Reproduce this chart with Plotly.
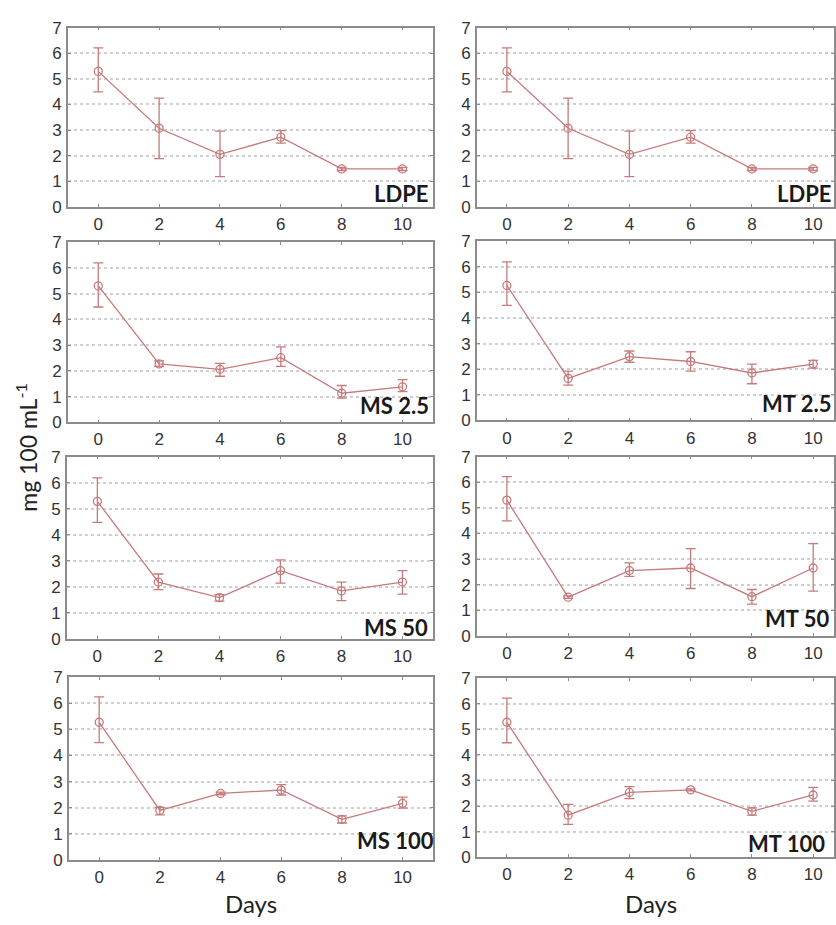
import plotly.graph_objects as go

days = [0, 2, 4, 6, 8, 10]
panel_names = ["LDPE", "LDPE", "MS 2.5", "MT 2.5", "MS 50", "MT 50", "MS 100", "MT 100"]

ldpe_mean = [5.29, 3.07, 2.05, 2.72, 1.48, 1.48]
ldpe_hi = [6.21, 4.25, 2.96, 2.98, 1.54, 1.54]
ldpe_lo = [4.49, 1.88, 1.18, 2.49, 1.42, 1.42]

ms25_mean = [5.30, 2.27, 2.06, 2.51, 1.13, 1.38]
ms25_hi = [6.19, 2.39, 2.29, 2.93, 1.43, 1.66]
ms25_lo = [4.48, 2.17, 1.79, 2.17, 0.94, 1.19]

mt25_mean = [5.27, 1.64, 2.49, 2.30, 1.85, 2.20]
mt25_hi = [6.19, 1.92, 2.71, 2.68, 2.20, 2.34]
mt25_lo = [4.49, 1.38, 2.27, 1.92, 1.43, 2.04]

ms50_mean = [5.28, 2.18, 1.58, 2.62, 1.84, 2.18]
ms50_hi = [6.18, 2.49, 1.70, 3.03, 2.18, 2.62]
ms50_lo = [4.47, 1.89, 1.45, 2.14, 1.47, 1.72]

mt50_mean = [5.30, 1.51, 2.55, 2.65, 1.53, 2.65]
mt50_hi = [6.22, 1.56, 2.85, 3.41, 1.81, 3.60]
mt50_lo = [4.49, 1.46, 2.32, 1.85, 1.24, 1.75]

ms100_mean = [5.27, 1.90, 2.55, 2.68, 1.56, 2.17]
ms100_hi = [6.24, 2.02, 2.60, 2.89, 1.69, 2.41]
ms100_lo = [4.49, 1.73, 2.50, 2.49, 1.42, 1.99]

mt100_mean = [5.27, 1.64, 2.53, 2.63, 1.79, 2.43]
mt100_hi = [6.21, 2.06, 2.76, 2.67, 1.93, 2.73]
mt100_lo = [4.47, 1.28, 2.29, 2.59, 1.64, 2.19]

series = [
    (ldpe_mean, ldpe_hi, ldpe_lo),
    (ldpe_mean, ldpe_hi, ldpe_lo),
    (ms25_mean, ms25_hi, ms25_lo),
    (mt25_mean, mt25_hi, mt25_lo),
    (ms50_mean, ms50_hi, ms50_lo),
    (mt50_mean, mt50_hi, mt50_lo),
    (ms100_mean, ms100_hi, ms100_lo),
    (mt100_mean, mt100_hi, mt100_lo),
]

W, H = 836, 925
# pixel boxes (left, right, top, bottom)
boxes = [
    (68, 434, 19, 202), (478, 836, 19, 202),
    (68, 434, 238, 422), (478, 836, 237, 420),
    (67, 434, 457, 643), (478, 836, 457, 640),
    (69, 434, 682, 869), (478, 836, 683, 866),
]
xranges = [[-1.0, 11.0], [-0.98, 10.68]] * 4
# label positions: right edge x, center y (pixels)
label_pos = [(431, 188), (835, 188), (432, 405), (835, 403),
             (431, 631), (833, 622), (437, 849), (829, 852)]

col = "#c77a7a"
axcol = "#8c8c8c"
tickfont = dict(family="Liberation Sans, Arial", size=17, color="#333333")

fig = go.Figure()
layout = dict(width=W, height=H, margin=dict(l=0, r=0, t=0, b=0),
              paper_bgcolor="white", plot_bgcolor="white", showlegend=False)
annotations = []

for i, ((m, hi, lo), (l, r, t, b)) in enumerate(zip(series, boxes)):
    k = "" if i == 0 else str(i + 1)
    fig.add_trace(go.Scatter(
        x=days, y=m, mode="lines+markers", xaxis="x" + k, yaxis="y" + k,
        line=dict(color=col, width=1.3),
        marker=dict(symbol="circle-open", size=8, color=col, line=dict(width=1.3)),
        error_y=dict(type="data", symmetric=False,
                     array=[h - v for h, v in zip(hi, m)],
                     arrayminus=[v - q for v, q in zip(m, lo)],
                     color=col, thickness=1.3, width=5),
    ))
    layout["xaxis" + k] = dict(
        domain=[l / W, r / W], range=xranges[i], anchor="y" + k,
        tickvals=days, ticks="inside", ticklen=3, tickcolor=axcol,
        showline=True, linecolor=axcol, linewidth=1.5, mirror="ticks",
        showgrid=False, zeroline=False, tickfont=tickfont, ticklabelstandoff=1,
    )
    layout["yaxis" + k] = dict(
        domain=[1 - b / H, 1 - t / H], range=[0, 7], anchor="x" + k,
        tickvals=list(range(8)), ticks="inside", ticklen=3, tickcolor=axcol,
        showline=True, linecolor=axcol, linewidth=1.5, mirror="ticks",
        showgrid=True, gridcolor="#cfcfcf", griddash="dot", gridwidth=1.5,
        zeroline=False, tickfont=tickfont, ticklabelstandoff=1,
    )
    lx, ly = label_pos[i]
    annotations.append(dict(
        text="<b>" + panel_names[i] + "</b>", xref="paper", yref="paper",
        x=lx / W, y=1 - ly / H, xanchor="right", yanchor="middle",
        showarrow=False, font=dict(family="Lato", size=22, color="#1a1a1a"),
    ))

annotations.append(dict(text="Days", xref="paper", yref="paper", x=252 / W, y=1 - 913 / H,
                        xanchor="center", yanchor="middle", showarrow=False,
                        font=dict(family="Lato", size=24, color="#222222")))
annotations.append(dict(text="Days", xref="paper", yref="paper", x=653 / W, y=1 - 913 / H,
                        xanchor="center", yanchor="middle", showarrow=False,
                        font=dict(family="Lato", size=24, color="#222222")))
annotations.append(dict(text="mg 100 mL<sup>-1</sup>", xref="paper", yref="paper",
                        x=27 / W, y=1 - 447 / H, xanchor="center", yanchor="middle",
                        textangle=-90, showarrow=False,
                        font=dict(family="Lato", size=23, color="#222222")))
layout["annotations"] = annotations
fig.update_layout(**layout)
fig.write_html("out.html")
